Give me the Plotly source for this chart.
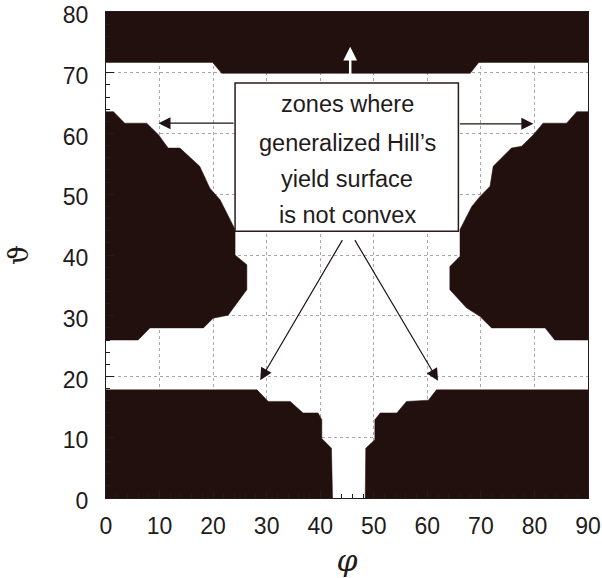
import plotly.graph_objects as go

# ---- Region boundaries (phi, theta): zones where the yield surface is not convex
top_phi = [0, 90, 90, 69.6, 68.0, 21.6, 19.9, 0]
top_theta = [80, 80, 71.7, 71.7, 69.9, 69.9, 71.7, 71.7]

midleft_phi = [0, 1.4, 3.5, 7.6, 9.8, 11.6, 13.8, 17.5, 19.4, 21.3, 24.1, 24.1, 26.3, 26.3,
               22.8, 20.0, 18.2, 8.2, 6.0, 0]
midleft_theta = [63.6, 63.6, 61.7, 61.7, 59.8, 57.6, 57.6, 54.6, 51.0, 49.1, 44.2, 40.0, 38.4, 34.3,
                 30.1, 29.6, 28.0, 28.0, 26.0, 26.0]

midright_phi = [90, 87.9, 86.0, 81.6, 79.8, 77.6, 75.7, 72.3, 71.7, 69.8, 68.3, 66.1, 66.1, 64.2,
                64.2, 67.3, 69.8, 72.0, 82.0, 83.8, 90]
midright_theta = [63.6, 63.6, 61.7, 61.7, 59.8, 57.9, 57.6, 54.6, 51.3, 49.6, 48.0, 44.2, 39.8, 38.1,
                  34.3, 31.3, 29.9, 28.0, 28.0, 26.0, 26.0]

botleft_phi = [0, 28.2, 30.3, 34.4, 36.8, 39.6, 40.3, 40.3, 42.1, 42.3, 0]
botleft_theta = [17.8, 17.8, 15.9, 15.9, 14.0, 14.0, 12.9, 9.8, 8.2, 0, 0]

botright_phi = [90, 61.7, 60.2, 56.1, 54.3, 51.2, 50.2, 50.2, 48.5, 48.4, 90]
botright_theta = [17.8, 17.8, 16.1, 15.9, 14.0, 14.0, 12.9, 9.6, 8.2, 0, 0]

# ---- Annotation content
label_lines = ["zones where", "generalized Hill\u2019s", "yield surface", "is not convex"]
label_theta = [64.9, 58.4, 52.5, 46.6]
label_phi = 45.0
box_phi = [24.1, 65.8]
box_theta = [43.9, 68.3]

# arrows: tail (phi, theta) -> head (phi, theta)
arrow_tail_phi = [45.6, 24.1, 65.8, 44.3, 46.3]
arrow_tail_theta = [68.3, 61.7, 61.6, 42.7, 42.7]
arrow_head_phi = [45.6, 9.8, 79.8, 28.8, 62.0]
arrow_head_theta = [74.3, 61.7, 61.6, 19.4, 19.3]

x_ticks = list(range(0, 91, 10))
y_ticks = list(range(0, 81, 10))

DARK = "#22100e"
INK = "#231a1a"
FONT = "Liberation Sans, Arial, Helvetica, sans-serif"

fig = go.Figure()
for px_, py_ in [(top_phi, top_theta), (midleft_phi, midleft_theta), (midright_phi, midright_theta),
                 (botleft_phi, botleft_theta), (botright_phi, botright_theta)]:
    fig.add_trace(go.Scatter(x=px_, y=py_, mode="lines", fill="toself", fillcolor=DARK,
                             line=dict(width=0.5, color=DARK), hoverinfo="skip", showlegend=False))

fig.add_shape(type="rect", xref="x", yref="y", x0=box_phi[0], x1=box_phi[1],
              y0=box_theta[0], y1=box_theta[1], fillcolor="white",
              line=dict(color="#2a1a1a", width=1.5), layer="above")

for txt, th in zip(label_lines, label_theta):
    fig.add_annotation(x=label_phi, y=th, xref="x", yref="y", text=txt, showarrow=False,
                       font=dict(family=FONT, size=23.5, color=INK))

for i in range(len(arrow_tail_phi)):
    white = (i == 0)
    fig.add_annotation(x=arrow_head_phi[i], y=arrow_head_theta[i], ax=arrow_tail_phi[i],
                       ay=arrow_tail_theta[i], xref="x", yref="y", axref="x", ayref="y",
                       text="", showarrow=True, arrowhead=2,
                       arrowsize=1.1 if white else 2.0,
                       arrowwidth=2.5 if white else 1.2,
                       arrowcolor="white" if white else "#1e1212", standoff=0, startstandoff=0)

axis_common = dict(
    automargin=False, ticklabeloverflow="allow",
    showgrid=True, gridcolor="#a8a8a8", griddash="dot", gridwidth=1,
    ticks="inside", ticklen=8, tickcolor=INK, tickwidth=1,
    minor=dict(dtick=2, ticks="inside", ticklen=4, tickcolor=INK, showgrid=False),
    showline=True, mirror=True, linecolor=INK, linewidth=1,
    zeroline=False, tickfont=dict(family=FONT, size=23, color=INK),
)

fig.update_layout(
    width=602, height=578,
    margin=dict(l=106, r=14, t=12, b=80),
    paper_bgcolor="white", plot_bgcolor="white",
    showlegend=False,
    xaxis=dict(range=[0, 90], tickvals=x_ticks, ticklabelstandoff=7,
               title=dict(text="<i>\u03c6</i>", font=dict(family="DejaVu Serif", size=30, color=INK),
                          standoff=13),
               **axis_common),
    yaxis=dict(range=[0, 80], tickvals=y_ticks, ticklabelstandoff=12, ticklabelshift=3,
               title=dict(text="\u03d1", font=dict(family="DejaVu Serif", size=28, color=INK),
                          standoff=26),
               **axis_common),
)

fig.write_html("out.html", config={"displayModeBar": False},
               post_script="document.body.style.margin='0';document.body.style.overflow='hidden';")
